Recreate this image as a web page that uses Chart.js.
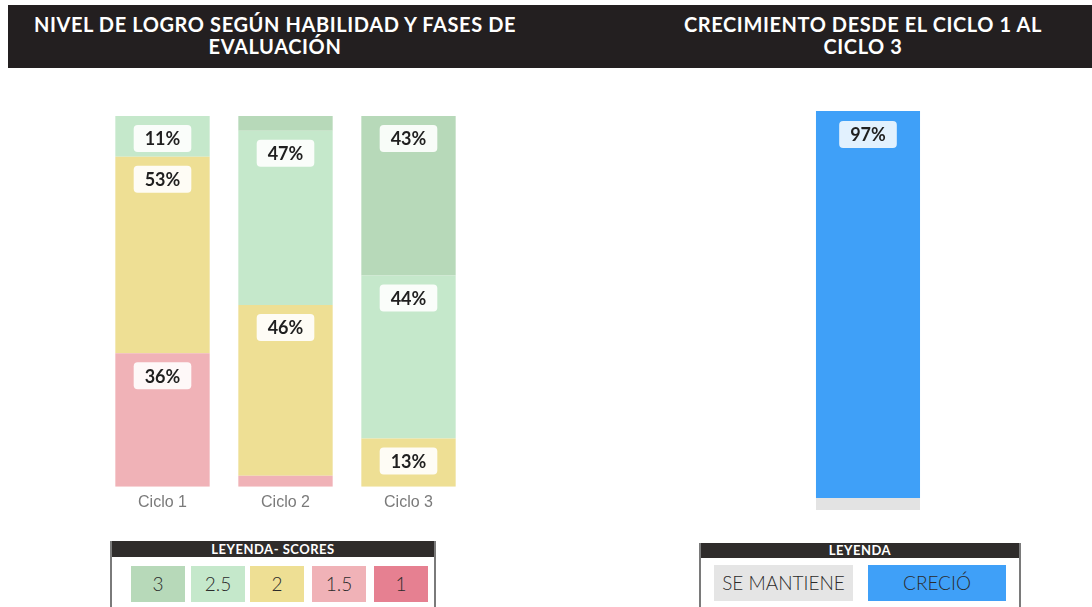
<!DOCTYPE html>
<html>
<head>
<meta charset="utf-8">
<script src="https://cdn.jsdelivr.net/npm/chart.js"></script>
<style>
  body { margin: 0; width: 1092px; height: 607px; background: #fff; overflow: hidden; position: relative; font-family: Lato, "Open Sans", sans-serif; }
  .header { position: absolute; left: 8px; top: 5px; width: 1084px; height: 63px; background: #231f20; }
  .title { position: absolute; color: #fff; font-weight: 700; font-size: 20px; line-height: 22px; text-align: center; letter-spacing: 0.6px; }
  .box { position: absolute; }
  .box canvas { display: block; }
  .legend { position: absolute; border-left: 2px solid #7a7a7a; border-right: 2px solid #7a7a7a; height: 70px; background: #fff; }
  .legend .head { background: #2f2c2b; color: #fff; font-weight: 700; font-size: 13px; text-align: center; height: 16px; line-height: 16px; letter-spacing: 0.5px; }
  .sw { position: absolute; top: 25px; height: 36px; line-height: 36px; text-align: center; color: #2b2b2b; font-size: 19px; font-weight: 300; }
</style>
</head>
<body>
<div class="header"></div>
<div class="title" style="left:10px; top:13px; width:530px;">NIVEL DE LOGRO SEGÚN HABILIDAD Y FASES DE<br>EVALUACIÓN</div>
<div class="title" style="left:650px; top:13px; width:426px;">CRECIMIENTO DESDE EL CICLO 1 AL<br>CICLO 3</div>

<div class="box" style="left:101px; top:106px; width:369px; height:412px;"><canvas id="chartNivel"></canvas></div>
<div class="box" style="left:790px; top:101px; width:156px; height:409px;"><canvas id="chartCrec"></canvas></div>

<div class="legend" style="left:110px; top:541px; width:322px;">
  <div class="head">LEYENDA- SCORES</div>
  <div class="sw" style="left:19px; width:54px; background:#b7d9b9;">3</div>
  <div class="sw" style="left:79px; width:54px; background:#c5e8cb;">2.5</div>
  <div class="sw" style="left:138px; width:54px; background:#eedf94;">2</div>
  <div class="sw" style="left:200px; width:54px; background:#f0b2b7;">1.5</div>
  <div class="sw" style="left:262px; width:54px; background:#e68091;">1</div>
</div>
<div class="legend" style="left:699px; top:543px; width:318px;">
  <div class="head" style="height:15px; line-height:15px;">LEYENDA</div>
  <div class="sw" style="left:13px; top:22px; width:139px; background:#e5e5e5;">SE MANTIENE</div>
  <div class="sw" style="left:167px; top:22px; width:138px; background:#3fa0f8;">CRECIÓ</div>
</div>

<script>
// porcentaje de estudiantes por score en cada ciclo
const ciclos = ['Ciclo 1', 'Ciclo 2', 'Ciclo 3'];
const score1 = [0, 0, 0];
const score15 = [36, 3, 0];
const score2 = [53, 46, 13];
const score25 = [11, 47, 44];
const score3 = [0, 4, 43];

// crecimiento entre ciclo 1 y ciclo 3
const crecimiento = ['Crecimiento'];
const seMantiene = [3];
const crecio = [97];

// etiqueta blanca redondeada arriba de cada segmento
const boxLabels = {
  id: 'boxLabels',
  afterDatasetsDraw(chart, args, opts) {
    const ctx = chart.ctx;
    ctx.save();
    ctx.font = 'bold 18px Lato, "Open Sans", sans-serif';
    ctx.textAlign = 'center';
    ctx.textBaseline = 'middle';
    chart.data.datasets.forEach((ds, i) => {
      const meta = chart.getDatasetMeta(i);
      meta.data.forEach((bar, j) => {
        const v = ds.data[j];
        if (v < opts.min) return;
        const text = v + '%';
        const w = ctx.measureText(text).width + 22;
        const h = 27;
        const x = bar.x - w / 2;
        const y = bar.y + opts.offset;
        ctx.fillStyle = opts.bg;
        ctx.beginPath();
        ctx.roundRect(x, y, w, h, 4);
        ctx.fill();
        ctx.fillStyle = '#1f1f1f';
        ctx.fillText(text, bar.x, y + h / 2 + 1);
      });
    });
    ctx.restore();
  }
};

new Chart(document.getElementById('chartNivel'), {
  type: 'bar',
  data: {
    labels: ciclos,
    datasets: [
      { label: '1', data: score1, backgroundColor: '#e68091' },
      { label: '1.5', data: score15, backgroundColor: '#f0b2b7' },
      { label: '2', data: score2, backgroundColor: '#eedf94' },
      { label: '2.5', data: score25, backgroundColor: '#c5e8cb' },
      { label: '3', data: score3, backgroundColor: '#b7d9b9' }
    ]
  },
  options: {
    responsive: true,
    maintainAspectRatio: false,
    animation: false,
    layout: { padding: { top: 10 } },
    datasets: { bar: { categoryPercentage: 1, barPercentage: 0.767, borderWidth: 0 } },
    scales: {
      x: {
        stacked: true,
        grid: { display: false, drawTicks: false },
        border: { display: false },
        ticks: { color: '#7a7a7a', padding: 6, font: { family: '"Liberation Sans", Arial, sans-serif', size: 16 } }
      },
      y: { stacked: true, display: false, min: 0, max: 100 }
    },
    plugins: {
      legend: { display: false },
      tooltip: { enabled: false },
      boxLabels: { min: 10, offset: 9, bg: 'rgba(255,255,255,0.9)' }
    }
  },
  plugins: [boxLabels]
});

new Chart(document.getElementById('chartCrec'), {
  type: 'bar',
  data: {
    labels: crecimiento,
    datasets: [
      { label: 'Se mantiene', data: seMantiene, backgroundColor: '#e3e3e3' },
      { label: 'Creció', data: crecio, backgroundColor: '#3fa0f8' }
    ]
  },
  options: {
    responsive: true,
    maintainAspectRatio: false,
    animation: false,
    layout: { padding: { top: 10 } },
    datasets: { bar: { categoryPercentage: 1, barPercentage: 0.667, borderWidth: 0 } },
    scales: {
      x: { stacked: true, display: false },
      y: { stacked: true, display: false, min: 0, max: 100 }
    },
    plugins: {
      legend: { display: false },
      tooltip: { enabled: false },
      boxLabels: { min: 10, offset: 10, bg: 'rgba(255,255,255,0.85)' }
    }
  },
  plugins: [boxLabels]
});
</script>
</body>
</html>
